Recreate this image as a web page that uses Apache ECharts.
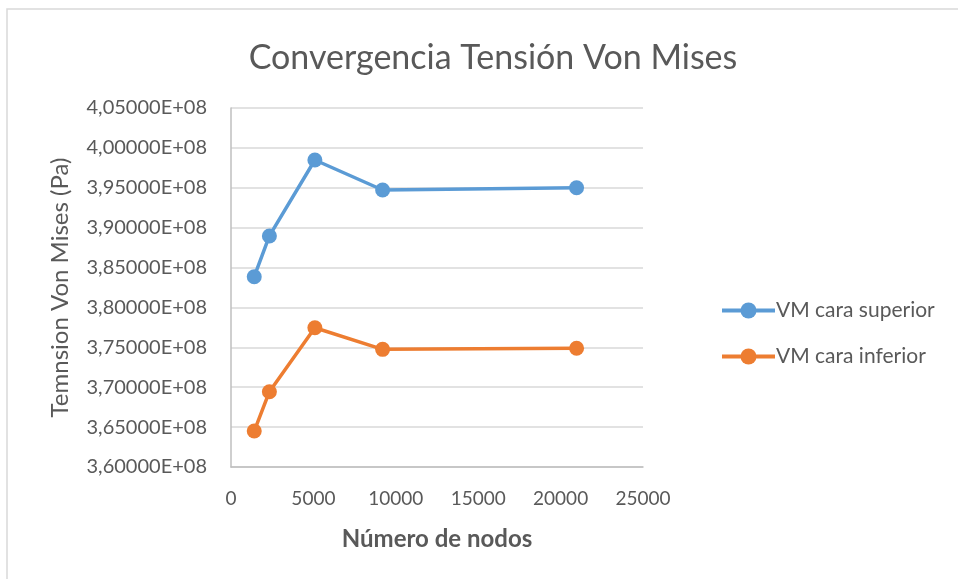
<!DOCTYPE html>
<html>
<head>
<meta charset="utf-8">
<script src="https://cdn.jsdelivr.net/npm/echarts@6/dist/echarts.min.js"></script>
<style>
  html, body { margin: 0; padding: 0; background: #fff; }
  #chart { width: 958px; height: 579px; }
</style>
</head>
<body>
<div id="chart"></div>
<script>
// datos
const nodos = [1410, 2330, 5090, 9200, 20970];
const vmSuperior = [3.8385e8, 3.8896e8, 3.9848e8, 3.9472e8, 3.9501e8];
const vmInferior = [3.6451e8, 3.6944e8, 3.7746e8, 3.7475e8, 3.7488e8];
const nombres = ["VM cara superior", "VM cara inferior"];

const font = "Lato, 'Open Sans', sans-serif";
const gris = "#595959";

function pares(xs, ys) {
  return xs.map((x, i) => [x, ys[i]]);
}

// 3.85e8 -> "3,85000E+08"
function formatoE(v) {
  return (v / 1e8).toFixed(5).replace(".", ",") + "E+08";
}

let myChart = echarts.init(document.getElementById("chart"));
let option = {
  animation: false,
  title: {
    text: "Convergencia Tensión Von Mises",
    left: 488,
    textAlign: "center",
    top: 36,
    textStyle: { fontFamily: font, fontSize: 34, fontWeight: "normal", color: gris }
  },
  graphic: [
    {
      type: "rect",
      shape: { x: 7, y: 9, width: 1000, height: 1000 },
      style: { fill: "none", stroke: "#d9d9d9", lineWidth: 1.5 },
      silent: true
    }
  ],
  grid: { left: 231, right: 315, top: 108, bottom: 112 },
  legend: {
    orient: "vertical",
    left: 715,
    top: 295,
    itemGap: 25,
    itemWidth: 53,
    itemHeight: 20,
    data: nombres,
    lineStyle: { width: 4 },
    textStyle: { fontFamily: font, fontSize: 21, color: gris, padding: [0, 0, 0, -4] }
  },
  xAxis: {
    type: "value",
    min: 0,
    max: 25000,
    interval: 5000,
    name: "Número de nodos",
    nameLocation: "middle",
    nameGap: 60,
    nameTextStyle: { fontFamily: font, fontSize: 24, fontWeight: "bold", color: gris },
    axisLine: { show: true, lineStyle: { color: "#bfbfbf", width: 1.5 } },
    axisTick: { show: false },
    splitLine: { show: false },
    axisLabel: { fontFamily: font, fontSize: 19, color: gris, margin: 22, formatter: v => String(v) }
  },
  yAxis: {
    type: "value",
    min: 3.6e8,
    max: 4.05e8,
    interval: 0.05e8,
    name: "Temnsion Von Mises (Pa)",
    nameLocation: "middle",
    nameGap: 159,
    nameTextStyle: { fontFamily: font, fontSize: 24, color: gris },
    axisLine: { show: true, lineStyle: { color: "#bfbfbf", width: 1.5 } },
    axisTick: { show: false },
    splitLine: { lineStyle: { color: "#d9d9d9", width: 1.5 } },
    axisLabel: { fontFamily: font, fontSize: 20, color: gris, margin: 24, formatter: formatoE }
  },
  series: [
    {
      name: nombres[0],
      type: "line",
      data: pares(nodos, vmSuperior),
      symbol: "circle",
      symbolSize: 15,
      lineStyle: { width: 3.5, color: "#5b9bd5" },
      itemStyle: { color: "#5b9bd5" }
    },
    {
      name: nombres[1],
      type: "line",
      data: pares(nodos, vmInferior),
      symbol: "circle",
      symbolSize: 15,
      lineStyle: { width: 3.5, color: "#ed7d31" },
      itemStyle: { color: "#ed7d31" }
    }
  ]
};
myChart.setOption(option);
</script>
</body>
</html>
